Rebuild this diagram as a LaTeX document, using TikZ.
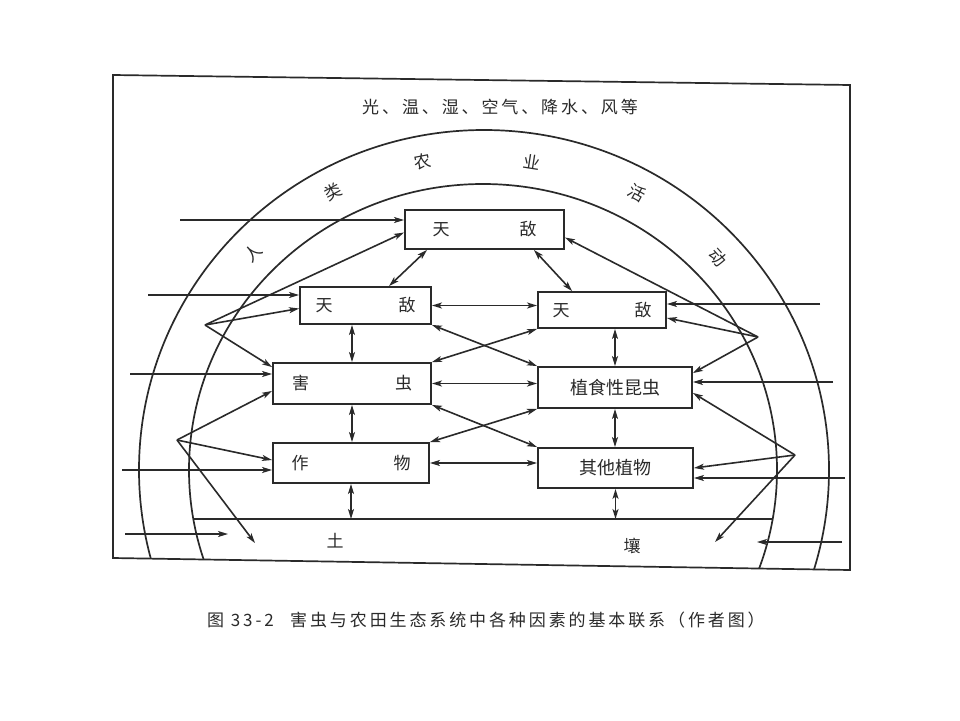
\documentclass[tikz,border=0pt]{standalone}
\usepackage{fontspec}
\newfontfamily\cjk{Noto Sans CJK SC}
\usetikzlibrary{arrows.meta,calc}
\definecolor{ink}{HTML}{2A2A2A}
\begin{document}
\begin{tikzpicture}[x=1pt,y=-1pt,
  box/.style={draw=ink, line width=1.9pt, inner sep=0pt, text=ink, font=\cjk\fontsize{17}{17}\selectfont},
  conn/.style={draw=ink, line width=1.6pt},
  tip/.style={},
  both/.style={conn, {Stealth[length=10pt,width=6pt,inset=2.5pt]}-{Stealth[length=10pt,width=6pt,inset=2.5pt]}},
  to/.style={conn, -{Stealth[length=10pt,width=6pt,inset=2.5pt]}},
  arcline/.style={draw=ink, line width=1.7pt},
  lbl/.style={font=\cjk\fontsize{17}{17}\selectfont, text=ink, inner sep=0pt},
  captxt/.style={font=\cjk\fontsize{17}{17}\selectfont\addfontfeature{LetterSpace=17}, text=ink, inner sep=0pt},
]
\useasboundingbox (0,0) rectangle (960,720);
\fill[white] (0,0) rectangle (960,720);

% frame
\coordinate (F1) at (113,75);
\coordinate (F2) at (850,85);
\coordinate (F3) at (850,570);
\coordinate (F4) at (113,558);
\draw[arcline] (F1) -- (F2) -- (F3) -- (F4) -- cycle;

% arcs
\begin{scope}
  \clip (F1) -- (F2) -- (F3) -- (F4) -- cycle;
  \draw[arcline] (484,470) ellipse [x radius=345, y radius=340];
  \draw[arcline] (483,470) ellipse [x radius=294, y radius=286];
\end{scope}

% title and band text
\node[captxt] (title) at (500,107) {光、温、湿、空气、降水、风等};
\node[lbl, rotate=44] (c1) at (253,253) {人};
\node[lbl, rotate=28] (c2) at (333,192) {类};
\node[lbl, rotate=11] (c3) at (423,162) {农};
\node[lbl, rotate=-9] (c4) at (532,162) {业};
\node[lbl, rotate=-29] (c5) at (637,193) {活};
\node[lbl, rotate=-48] (c6) at (718,258) {动};

% boxes
\node[box, minimum width=159pt, minimum height=39pt] (T) at (484.5,229.5) {天\hspace{70pt}敌};
\node[box, minimum width=131pt, minimum height=37pt] (L1) at (365.5,305.5) {天\hspace{66pt}敌};
\node[box, minimum width=128pt, minimum height=36pt] (R1) at (602,310) {天\hspace{65pt}敌};
\node[box, minimum width=158pt, minimum height=41pt] (L2) at (352,383.5) {害\hspace{86pt}虫};
\node[box, minimum width=154pt, minimum height=41pt, font=\cjk\fontsize{18}{18}\selectfont] (R2) at (615,387.5) {植食性昆虫};
\node[box, minimum width=156pt, minimum height=40pt] (L3) at (351,463) {作\hspace{85pt}物};
\node[box, minimum width=155pt, minimum height=40pt, font=\cjk\fontsize{18}{18}\selectfont] (R3) at (615.5,468) {其他植物};

% soil
\coordinate (soilL) at (194,519);
\coordinate (soilR) at (772,519);
\draw[conn] (soilL) -- (soilR);
\node[lbl] (tu) at (335,541) {土};
\node[lbl] (rang) at (632,546) {壤};

% links between boxes
\draw[both] ($(T.south west)+(23,0)$) -- ($(L1.north west)+(90,0)$);
\draw[both] ($(T.south east)+(-31,0)$) -- ($(R1.north west)+(35,0)$);
\draw[both] (L1.east) -- (L1.east -| R1.west);
\draw[both] (L2.north |- L1.south) -- (L2.north);
\draw[both] (R2.north |- R1.south) -- (R2.north);
\draw[both] (L2.east) -- (L2.east -| R2.west);
\draw[both] (L2.south) -- (L2.south |- L3.north);
\draw[both] (R2.south) -- (R2.south |- R3.north);
\draw[both] (L3.east) -- (L3.east -| R3.west);
\draw[both] (L1.south east) -- (R2.north west);
\draw[both] (R1.south west) -- (L2.north east);
\draw[both] (L2.south east) -- (R3.north west);
\draw[both] (R2.south west) -- (L3.north east);
\draw[both] (L3.south) -- (L3.south |- soilL);
\draw[both] (R3.south) -- (R3.south |- soilL);

% left inputs
\coordinate (inT) at (180,220);
\coordinate (inL1) at (148,295);
\coordinate (inL2) at (130,374);
\coordinate (inL3) at (122,470);
\draw[to] (inT) -- (inT -| T.west);
\draw[to] (inL1) -- (inL1 -| L1.west);
\draw[to] (inL2) -- (inL2 -| L2.west);
\draw[to] (inL3) -- (inL3 -| L3.west);
\coordinate (sInL) at (125,534);
\coordinate (sTipL) at (228,534);
\draw[to] (sInL) -- (sTipL);
\coordinate (A) at (205,325);
\draw[to] (A) -- ($(T.west)+(0,3)$);
\draw[to] (A) -- ($(L1.west)+(0,3)$);
\draw[to] (A) -- ($(L2.north west)+(0,5)$);
\coordinate (B) at (177,440);
\draw[to] (B) -- ($(L2.south west)+(0,-14)$);
\draw[to] (B) -- ($(L3.west)+(0,-3)$);
\coordinate (Btip) at (255,543);
\draw[to] (B) -- (Btip);

% right inputs
\coordinate (inR1) at (820,304);
\coordinate (inR2) at (833,382);
\coordinate (inR3) at (845,478);
\draw[to] (inR1) -- (inR1 -| R1.east);
\draw[to] (inR2) -- (inR2 -| R2.east);
\draw[to] (inR3) -- (inR3 -| R3.east);
\coordinate (sInR) at (842,542);
\coordinate (sTipR) at (757,542);
\draw[to] (sInR) -- (sTipR);
\coordinate (C) at (758,337);
\draw[to] (C) -- ($(T.east)+(0,8)$);
\draw[to] (C) -- ($(R1.east)+(0,8)$);
\draw[to] (C) -- ($(R2.north east)+(0,7)$);
\coordinate (D) at (795,455);
\draw[to] (D) -- ($(R2.south east)+(0,-16)$);
\draw[to] (D) -- (R3.east);
\coordinate (Dtip) at (715,542);
\draw[to] (D) -- (Dtip);

% caption
\node[captxt, anchor=west] (capnum) at (207,620) {图 33-2};
\node[captxt, anchor=west] (captext) at (290,620) {害虫与农田生态系统中各种因素的基本联系（作者图）};
\end{tikzpicture}
\end{document}
